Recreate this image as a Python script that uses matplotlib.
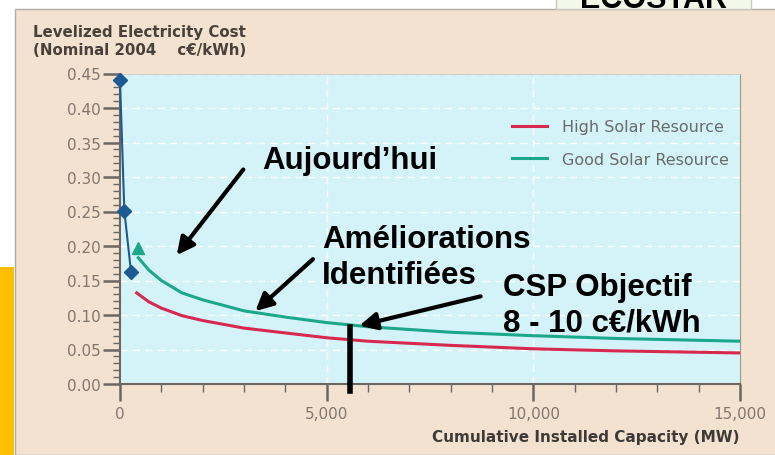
import numpy as np
import matplotlib
matplotlib.use("Agg")
from matplotlib import pyplot as plt
from matplotlib.patches import Rectangle
from matplotlib.ticker import MultipleLocator, FuncFormatter

# donnees (MW, c€/kWh)
mw_today = [0, 105, 265]
cost_today = [0.44, 0.251, 0.163]

mw_good_pt = [430]
cost_good_pt = [0.197]

mw_good = [443, 700, 1000, 1500, 2000, 3000, 4000, 5000, 6000, 8000, 10000, 12000, 15000]
cost_good = [0.183, 0.165, 0.150, 0.132, 0.122, 0.106, 0.097, 0.089, 0.083, 0.075, 0.070, 0.066, 0.062]

mw_high = [404, 700, 1000, 1500, 2000, 3000, 4000, 5000, 6000, 8000, 10000, 12000, 15000]
cost_high = [0.132, 0.119, 0.110, 0.099, 0.092, 0.081, 0.074, 0.067, 0.062, 0.056, 0.051, 0.048, 0.045]

x_ticks = [0, 5000, 10000, 15000]
y_ticks = np.arange(0, 0.451, 0.05)

tan = "#f3e2cf"
cyan = "#d3f3f8"
grey_txt = "#82776f"
red = "#d7294f"
green = "#1ba88a"
blue = "#1d5a93"

fig = plt.figure(figsize=(7.75, 4.56), dpi=100)
fig.patch.set_facecolor("white")

###################################################### fond / cadre
fig.patches.append(Rectangle((15 / 775, 0), 1, 1 - 10 / 456, transform=fig.transFigure,
                             facecolor=tan, edgecolor="#b0aca8", linewidth=1, zorder=0))
fig.patches.append(Rectangle((0, 0), 14 / 775, 1 - 268 / 456, transform=fig.transFigure,
                             facecolor="#fdbf00", edgecolor="none", zorder=0))
fig.patches.append(Rectangle((556 / 775, 1 - 10 / 456), 195 / 775, 12 / 456, transform=fig.transFigure,
                             facecolor="#f4f8e8", edgecolor="#c8c8c0", linewidth=1, zorder=0))
fig.text(653 / 775, 1 - 8 / 456, "ECOSTAR", ha="center", va="baseline", fontsize=22,
         fontweight="bold", family="Liberation Sans", color="black")

ax = fig.add_axes([120 / 775, 1 - 385 / 456, 620 / 775, 310.5 / 456])
ax.set_zorder(2)
ax.set_facecolor(cyan)

ax.plot(mw_high, cost_high, color=red, linewidth=2.2, label="High Solar Resource")
ax.plot(mw_good, cost_good, color=green, linewidth=2.2, label="Good Solar Resource")
ax.plot(mw_today, cost_today, color=blue, linewidth=1.5, marker="D", markersize=7, clip_on=False, zorder=5)
ax.plot(mw_good_pt, cost_good_pt, color=green, linestyle="none", marker="^", markersize=8, zorder=5)

ax.set_xlim(0, 15000)
ax.set_ylim(0, 0.45)
ax.set_xticks(x_ticks)
ax.set_yticks(y_ticks)
ax.xaxis.set_minor_locator(MultipleLocator(1000))
ax.yaxis.set_minor_locator(MultipleLocator(0.01))
ax.xaxis.set_major_formatter(FuncFormatter(lambda v, p: f"{int(v):,}"))
ax.yaxis.set_major_formatter(FuncFormatter(lambda v, p: f"{v:.2f}"))

ax.grid(True, which="major", color="white", linestyle=(0, (5, 4)), linewidth=1)
ax.set_axisbelow(True)

for s in ["left", "bottom"]:
    ax.spines[s].set_color("#6d6560")
    ax.spines[s].set_linewidth(1.5)
ax.spines["right"].set_color("#9a948f")
ax.spines["top"].set_color("#c9c3bd")
ax.spines["top"].set_linewidth(0.6)

ax.tick_params(which="major", length=12, width=1.8, color="#6d6560", labelcolor=grey_txt, labelsize=11)
ax.tick_params(which="minor", length=6, width=1, color="#6d6560")
ax.tick_params(axis="y", which="minor", length=5)
ax.tick_params(axis="y", pad=2)
ax.tick_params(axis="x", pad=4)

leg = ax.legend(loc="upper right", bbox_to_anchor=(1.0, 0.889), borderaxespad=0, borderpad=0.7,
                frameon=False, fontsize=11.5, handlelength=2.2, labelspacing=1.1, handletextpad=0.95)
for t in leg.get_texts():
    t.set_color("#6a6a6a")

###################################################### titres
fig.text(33 / 775, 1 - 25 / 456, "Levelized Electricity Cost\n(Nominal 2004    c€/kWh)",
         ha="left", va="top", fontsize=10.8, fontweight="bold", color="#4a403a", linespacing=1.25)
ax.text(1.0, -53 / 310.5, "Cumulative Installed Capacity (MW)", transform=ax.transAxes, ha="right",
        va="center", fontsize=11, fontweight="bold", color="#3e3a37")

###################################################### annotations
big = dict(fontsize=22.5, fontweight="bold", family="Liberation Sans", color="black")
arr = dict(arrowstyle="-|>", color="black", lw=3, mutation_scale=26)

# va="baseline" -> ligne du bas
ax.text(3435, 0.3126, "Aujourd\u2019hui", ha="left", va="baseline", **big)
ax.annotate("", xy=(1331, 0.1836), xytext=(3024, 0.314), arrowprops=arr)

ax.text(4887, 0.1464, "Améliorations\nIdentifiées", ha="left", va="baseline", linespacing=1.28, **big)
ax.annotate("", xy=(3226, 0.103), xytext=(4718, 0.1836), arrowprops=arr)

ax.text(9266, 0.0772, "CSP Objectif\n8 - 10 c€/kWh", ha="left", va="baseline", linespacing=1.25, **big)
ax.annotate("", xy=(5726, 0.0836), xytext=(8790, 0.128), arrowprops=arr)

ax.plot([5565, 5565], [0.0826, -0.01], color="black", linewidth=4, clip_on=False, zorder=6)

plt.savefig("out.png", dpi=100, facecolor=fig.get_facecolor())
